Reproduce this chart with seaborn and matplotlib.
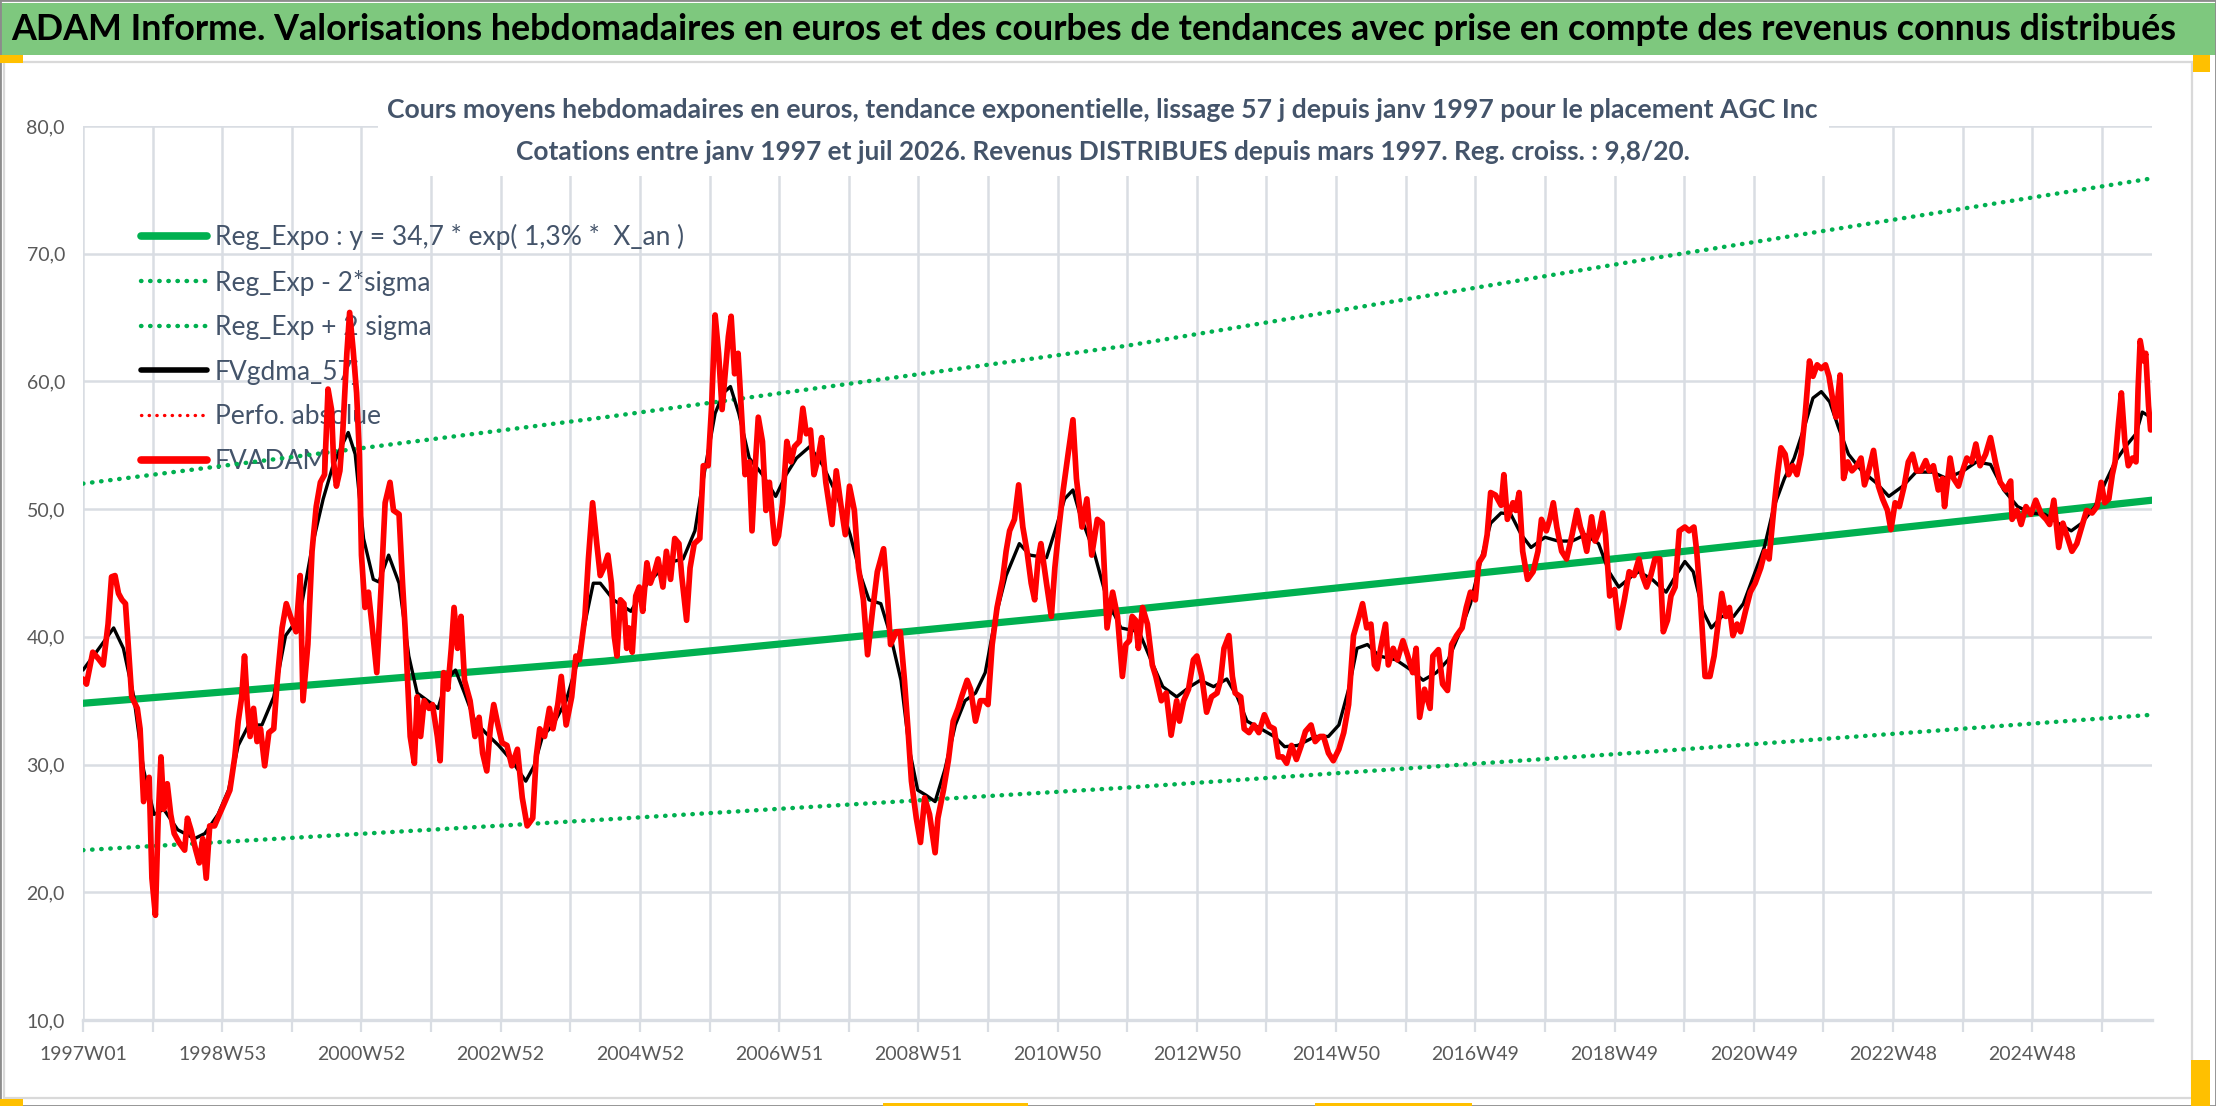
import numpy as np
import matplotlib
matplotlib.use('Agg')
import matplotlib.pyplot as plt
from matplotlib.lines import Line2D
from matplotlib.patches import Rectangle
from matplotlib import font_manager
import seaborn as sns

# ---- data (x = années depuis 1997W01, y = euros) ----
red_t = [
    0.00, 0.05, 0.14, 0.22, 0.29, 0.36, 0.41, 0.46, 0.51, 0.56,
    0.61, 0.65, 0.70, 0.78, 0.82, 0.87, 0.95, 0.99, 1.04, 1.08,
    1.12, 1.16, 1.21, 1.26, 1.31, 1.38, 1.46, 1.50, 1.55, 1.62,
    1.67, 1.72, 1.77, 1.82, 1.89, 1.96, 2.04, 2.11, 2.18, 2.23,
    2.28, 2.32, 2.36, 2.40, 2.45, 2.50, 2.55, 2.61, 2.67, 2.74,
    2.79, 2.86, 2.92, 2.98, 3.06, 3.12, 3.16, 3.23, 3.29, 3.35,
    3.41, 3.47, 3.52, 3.57, 3.60, 3.64, 3.69, 3.73, 3.79, 3.83,
    3.88, 3.93, 3.97, 4.00, 4.05, 4.10, 4.15, 4.22, 4.29, 4.34,
    4.41, 4.46, 4.54, 4.59, 4.63, 4.70, 4.76, 4.80, 4.85, 4.90,
    4.97, 5.02, 5.09, 5.13, 5.18, 5.24, 5.29, 5.33, 5.38, 5.43,
    5.48, 5.56, 5.63, 5.69, 5.74, 5.80, 5.85, 5.90, 5.96, 6.02,
    6.09, 6.16, 6.24, 6.31, 6.38, 6.46, 6.51, 6.56, 6.63, 6.70,
    6.75, 6.82, 6.87, 6.94, 7.02, 7.08, 7.13, 7.21, 7.26, 7.32,
    7.38,
    7.43, 7.48, 7.54, 7.59, 7.63, 7.67, 7.72, 7.77, 7.81, 7.84,
    7.89, 7.94, 7.99, 8.04, 8.10, 8.15, 8.21, 8.26, 8.33, 8.38,
    8.44, 8.50, 8.56, 8.60, 8.67, 8.72, 8.78, 8.86, 8.91, 8.98,
    9.03, 9.08, 9.13, 9.18, 9.24, 9.27, 9.31, 9.36, 9.41, 9.46,
    9.51, 9.57, 9.61, 9.66, 9.70, 9.76, 9.81, 9.86, 9.91, 9.94,
    9.99, 10.05, 10.11, 10.17, 10.22, 10.29, 10.34, 10.39, 10.45, 10.50,
    10.56, 10.61, 10.67, 10.76, 10.82, 10.89, 10.95, 11.01, 11.08, 11.14,
    11.21, 11.27, 11.34, 11.41, 11.50, 11.56, 11.60, 11.68, 11.74, 11.80,
    11.85, 11.90, 11.97, 12.03, 12.09, 12.16, 12.24, 12.28, 12.36, 12.43,
    12.50, 12.57, 12.62, 12.70, 12.75, 12.82, 12.89, 12.95, 13.00, 13.06,
    13.13, 13.21, 13.26, 13.31, 13.38, 13.44, 13.50, 13.56, 13.62, 13.67,
    13.72, 13.76, 13.84, 13.91, 13.96, 14.02, 14.08, 14.15, 14.22, 14.27,
    14.35, 14.42, 14.49, 14.57, 14.64, 14.71, 14.79, 14.86,
    14.93, 14.98, 15.03, 15.07, 15.12, 15.16, 15.22, 15.29, 15.36, 15.41,
    15.49, 15.56, 15.63, 15.71, 15.75, 15.81, 15.88, 15.95, 16.00, 16.07,
    16.14, 16.21, 16.29, 16.34, 16.39, 16.46, 16.51, 16.55, 16.63, 16.68,
    16.75, 16.82, 16.89, 16.97, 17.04, 17.11, 17.17, 17.23, 17.29, 17.36,
    17.43, 17.50, 17.56, 17.64, 17.70, 17.77, 17.82, 17.89, 17.96, 18.04,
    18.11, 18.18, 18.25, 18.33, 18.38, 18.44, 18.50, 18.55, 18.59, 18.64,
    18.71, 18.75, 18.82, 18.88, 18.96, 19.03, 19.10, 19.15, 19.20, 19.27,
    19.35, 19.39, 19.47, 19.53, 19.60, 19.66, 19.73, 19.81, 19.87, 19.93,
    20.00, 20.05, 20.12, 20.17, 20.22, 20.29, 20.37, 20.41, 20.46, 20.54,
    20.58, 20.63, 20.68, 20.75, 20.83, 20.90, 20.95, 21.02, 21.07, 21.12,
    21.17, 21.24, 21.31, 21.39, 21.46, 21.51, 21.55, 21.60, 21.67, 21.72,
    21.78, 21.83, 21.87, 21.93, 22.00, 22.06, 22.14, 22.21, 22.28,
    22.35, 22.40, 22.46, 22.52, 22.58, 22.65, 22.70, 22.76, 22.81, 22.87,
    22.93, 23.01, 23.07, 23.14, 23.18, 23.23, 23.30, 23.37, 23.43, 23.48,
    23.54, 23.60, 23.65, 23.70, 23.76, 23.81, 23.88, 23.95, 24.02, 24.10,
    24.16, 24.22, 24.28, 24.34, 24.39, 24.45, 24.50, 24.56, 24.62, 24.68,
    24.74, 24.80, 24.85, 24.91, 24.97, 25.03, 25.08, 25.13, 25.18, 25.24,
    25.29, 25.35, 25.41, 25.48, 25.54, 25.59, 25.65, 25.72, 25.79, 25.85,
    25.92, 25.97, 26.03, 26.09, 26.16, 26.22, 26.28, 26.34, 26.40, 26.47,
    26.52, 26.58, 26.65, 26.71, 26.74, 26.82, 26.87, 26.94, 27.00, 27.06,
    27.13, 27.19, 27.25, 27.33, 27.40, 27.47, 27.54, 27.62, 27.69, 27.71,
    27.78, 27.84, 27.91, 27.98, 28.05, 28.13, 28.20, 28.25, 28.31, 28.38,
    28.44, 28.51, 28.57, 28.64, 28.71, 28.78, 28.86, 28.93, 28.99, 29.04,
    29.10, 29.15, 29.19, 29.24, 29.28, 29.33, 29.38, 29.44, 29.49, 29.52,
    29.55, 29.60, 29.63, 29.67, 29.70,
]
red_v = [
    36.7, 36.3, 38.8, 38.3, 37.8, 41.0, 44.7, 44.8, 43.4, 42.9,
    42.6, 39.4, 35.3, 34.4, 32.8, 27.1, 29.0, 21.1, 18.2, 25.8,
    30.6, 26.5, 28.5, 26.1, 24.6, 23.9, 23.3, 25.8, 24.9, 23.3,
    22.3, 24.2, 21.1, 25.2, 25.2, 26.1, 27.1, 28.0, 30.6, 33.4,
    35.3, 38.5, 34.7, 32.2, 34.4, 31.8, 32.8, 29.9, 32.5, 32.8,
    36.6, 40.7, 42.6, 41.6, 40.4, 44.8, 35.0, 39.4, 46.7, 50.2,
    52.1, 52.7, 59.4, 57.8, 53.7, 51.8, 53.0, 55.9, 62.2, 65.4,
    62.5, 59.1, 54.3, 46.4, 42.3, 43.5, 41.0, 37.2, 44.8, 50.5,
    52.1, 49.9, 49.6, 44.2, 40.4, 32.2, 30.1, 35.3, 32.2, 35.0,
    34.4, 34.7, 32.2, 30.3, 37.2, 35.9, 39.1, 42.3, 39.1, 41.6,
    36.6, 35.0, 32.2, 33.7, 30.9, 29.5, 32.8, 34.7, 33.1, 31.7,
    31.5, 29.9, 31.2, 27.4, 25.2, 25.8, 30.6, 32.8, 32.2, 34.4,
    32.8, 34.7, 36.9, 33.1, 35.3, 38.5, 38.2, 41.6, 46.1, 50.5,
    47.3,
    44.8, 45.4, 46.4, 44.2, 40.1, 38.5, 42.9, 42.6, 39.1, 40.7,
    38.8, 43.2, 43.9, 42.0, 45.8, 44.2, 45.1, 46.1, 43.9, 46.7,
    44.5, 47.7, 47.3, 44.8, 41.3, 45.4, 47.3, 47.7, 53.4, 53.4,
    58.1, 65.2, 62.2, 57.8, 61.6, 63.5, 65.1, 60.6, 62.2, 57.5,
    52.7, 53.7, 48.3, 53.7, 57.2, 55.3, 49.9, 52.1, 48.9, 47.3,
    47.9, 50.5, 55.3, 53.7, 54.9, 55.3, 57.9, 55.9, 56.2, 52.7,
    54.0, 55.6, 52.1, 48.8, 53.0, 50.2, 48.0, 51.8, 49.9, 45.4,
    42.9, 38.6, 42.0, 45.1, 46.9, 42.9, 39.4, 40.4, 40.4, 36.6,
    32.8, 28.7, 25.8, 23.9, 27.4, 26.1, 23.1, 25.8, 28.0, 30.3,
    33.4, 34.4, 35.3, 36.6, 35.9, 33.4, 35.0, 35.0, 34.7, 39.4,
    42.3, 44.5, 46.7, 48.3, 49.2, 51.9, 48.6, 46.7, 44.2, 42.9,
    46.1, 47.3, 44.2, 41.6, 45.4, 48.6, 51.5, 54.3, 57.0, 52.4,
    48.6, 50.8, 46.4, 49.2, 48.9, 40.7, 43.5, 41.6,
    36.9, 39.4, 39.7, 41.6, 41.3, 39.1, 42.3, 41.0, 37.8, 36.9,
    35.0, 35.6, 32.3, 35.0, 33.4, 35.0, 35.9, 38.2, 38.5, 36.9,
    34.1, 35.3, 35.6, 36.6, 39.1, 40.1, 36.9, 35.6, 35.3, 32.8,
    32.5, 33.1, 32.5, 33.9, 33.0, 32.8, 30.6, 30.6, 30.1, 31.5,
    30.4, 31.5, 32.6, 33.1, 31.8, 32.2, 32.2, 30.9, 30.3, 31.2,
    32.5, 34.7, 40.1, 41.6, 42.6, 40.7, 41.0, 37.8, 37.5, 39.1,
    41.0, 37.8, 39.1, 38.2, 39.7, 38.5, 37.2, 39.1, 33.7, 35.9,
    34.4, 38.5, 39.0, 36.3, 35.8, 39.4, 40.1, 40.7, 42.3, 43.5,
    42.9, 45.8, 46.4, 48.0, 51.3, 51.1, 50.3, 52.7, 49.2, 50.5,
    49.9, 51.3, 46.7, 44.5, 45.1, 46.7, 49.2, 48.3, 49.2, 50.5,
    48.6, 46.7, 46.1, 48.0, 49.9, 48.6, 48.0, 46.7, 49.4, 47.5,
    48.3, 49.7, 48.0, 43.2, 43.7, 40.7, 42.9, 45.1, 44.8,
    46.1, 44.8, 43.9, 44.8, 46.1, 46.1, 40.4, 41.3, 43.2, 43.9,
    48.3, 48.6, 48.3, 48.6, 46.7, 43.2, 36.9, 36.9, 38.5, 40.7,
    43.4, 41.6, 42.3, 40.1, 41.0, 40.4, 42.0, 43.5, 44.2, 45.4,
    46.7, 46.1, 49.6, 52.7, 54.8, 54.3, 52.7, 53.4, 52.7, 54.3,
    57.5, 61.6, 60.4, 61.3, 61.0, 61.3, 60.4, 58.7, 57.2, 60.5,
    52.4, 53.7, 53.0, 53.4, 54.0, 51.9, 53.0, 54.6, 51.8, 50.8,
    49.9, 48.4, 50.5, 50.2, 51.8, 53.7, 54.3, 53.0, 53.0, 53.8,
    53.0, 53.4, 51.5, 52.4, 50.2, 54.0, 52.4, 51.8, 53.0, 54.0,
    53.7, 55.1, 53.4, 54.3, 55.6, 53.7, 52.1, 51.5, 52.2, 49.2,
    49.9, 48.8, 50.2, 49.6, 50.7, 49.6, 49.2, 48.8, 50.7, 47.0,
    48.9, 47.7, 46.7, 47.3, 48.6, 49.9, 49.7, 50.2, 52.1, 50.5,
    50.8, 52.7, 53.7, 56.8, 59.1, 55.3, 53.4, 54.0, 53.7, 59.4,
    63.2, 61.6, 62.2, 58.1, 56.2,
]

black_t = [
    0.00, 0.19, 0.31, 0.44, 0.58, 0.73, 0.87, 1.02, 1.16, 1.36,
    1.60, 1.75, 1.94, 2.09, 2.23, 2.38, 2.57, 2.74, 2.91, 3.11,
    3.30, 3.45, 3.59, 3.71, 3.81, 3.91, 4.03, 4.17, 4.25, 4.39,
    4.54, 4.68, 4.80, 4.95, 5.10, 5.22, 5.35, 5.48, 5.63, 5.78,
    5.97, 6.16, 6.36, 6.48, 6.60, 6.75, 6.94, 7.09, 7.23, 7.33,
    7.43, 7.62, 7.87, 8.11, 8.40, 8.62, 8.79, 8.93, 9.08, 9.20,
    9.30, 9.42, 9.57, 9.76, 9.95, 10.10, 10.25, 10.44, 10.63, 10.83,
    11.02, 11.17, 11.29, 11.46, 11.60, 11.75, 11.87, 11.99, 12.11, 12.24,
    12.38, 12.53, 12.67, 12.82, 12.96, 13.11, 13.26, 13.45, 13.60, 13.84,
    13.98, 14.10, 14.22, 14.32, 14.52, 14.71, 14.91,
    15.17, 15.37, 15.51, 15.71, 15.90, 16.05, 16.24, 16.43, 16.58, 16.72,
    16.92, 17.11, 17.26, 17.45, 17.70, 17.89, 18.04, 18.18, 18.30, 18.45,
    18.62, 18.86, 19.05, 19.25, 19.44, 19.61, 19.78, 19.93, 20.07, 20.22,
    20.37, 20.51, 20.66, 20.80, 21.00, 21.19, 21.39, 21.58, 21.77, 21.92,
    22.06, 22.26,
    22.35, 22.54, 22.74, 22.88, 23.01, 23.13, 23.27, 23.39, 23.54, 23.71,
    23.85, 24.00, 24.15, 24.29, 24.44, 24.58, 24.73, 24.85, 24.97, 25.09,
    25.21, 25.36, 25.55, 25.75, 25.94, 26.14, 26.33, 26.57, 26.77, 27.01,
    27.20, 27.40, 27.59, 27.79, 27.98, 28.18, 28.37, 28.56, 28.71, 28.90,
    29.05, 29.19, 29.34, 29.49, 29.58, 29.70,
]
black_v = [
    37.4, 38.8, 39.7, 40.7, 39.1, 35.3, 29.6, 26.1, 26.5, 24.9,
    24.2, 24.6, 26.1, 28.0, 31.5, 33.1, 33.1, 35.3, 40.1, 41.6,
    47.3, 50.8, 53.4, 54.9, 56.0, 54.3, 47.7, 44.5, 44.3, 46.4,
    44.2, 38.5, 35.6, 35.0, 34.4, 36.6, 37.4, 35.6, 33.4, 32.5,
    31.5, 30.3, 28.7, 29.9, 32.2, 33.1, 35.0, 37.8, 41.6, 44.2,
    44.2, 42.9, 42.0, 44.2, 45.8, 46.1, 48.3, 53.0, 57.5, 59.1,
    59.6, 57.5, 54.0, 52.7, 51.0, 52.7, 54.0, 54.9, 53.4, 51.1,
    48.0, 44.8, 42.9, 42.6, 40.1, 36.6, 31.2, 28.0, 27.6, 27.1,
    29.6, 33.1, 35.0, 35.6, 37.2, 41.6, 44.8, 47.3, 46.4, 46.2,
    48.6, 50.8, 51.5, 49.6, 46.7, 42.9, 40.7,
    40.4, 37.8, 36.1, 35.3, 36.1, 36.6, 36.1, 36.7, 35.3, 33.4,
    32.8, 32.2, 31.4, 31.5, 32.2, 32.2, 33.1, 35.9, 39.1, 39.4,
    38.5, 38.2, 37.5, 36.6, 37.2, 38.2, 40.4, 42.6, 45.8, 48.9,
    49.7, 49.6, 48.0, 47.0, 47.8, 47.5, 47.5, 48.0, 47.3, 45.1,
    43.9, 44.8,
    45.1, 44.5, 43.5, 44.8, 45.9, 45.1, 42.0, 40.7, 41.6, 41.6,
    42.6, 44.8, 47.0, 50.2, 52.4, 54.0, 56.5, 58.7, 59.2, 58.4,
    56.5, 54.3, 53.0, 52.1, 51.0, 51.8, 52.9, 52.9, 52.4, 53.0,
    53.7, 53.5, 51.5, 50.2, 49.7, 49.6, 48.9, 48.3, 48.9, 50.2,
    52.1, 53.7, 54.9, 55.9, 57.6, 57.2,
]

trend_t = [0.0, 7.5, 15.0, 22.5, 29.72]
reg_expo = [34.8, 38.1, 42.1, 46.4, 50.7]
reg_moins = [23.3, 25.7, 28.2, 31.0, 33.9]
reg_plus = [52.0, 57.2, 62.8, 69.6, 75.9]

x_labels = ['1997W01', '1998W53', '2000W52', '2002W52', '2004W52', '2006W51',
            '2008W51', '2010W50', '2012W50', '2014W50', '2016W49', '2018W49',
            '2020W49', '2022W48', '2024W48']
y_ticks = [10, 20, 30, 40, 50, 60, 70, 80]

legend_labels = ['Reg_Expo : y = 34,7 * exp( 1,3% *  X_an )', 'Reg_Exp - 2*sigma',
                 'Reg_Exp + 2 sigma', 'FVgdma_57j', 'Perfo. absolue', 'FVADAM']

banner_title = ("ADAM Informe. Valorisations hebdomadaires en euros et des courbes "
                "de tendances avec prise en compte des revenus connus distribués")
sub1 = ("Cours moyens hebdomadaires en euros, tendance exponentielle, lissage 57 j "
        "depuis janv 1997 pour le placement AGC Inc")
sub2 = ("Cotations entre janv 1997 et juil 2026. Revenus DISTRIBUES depuis mars 1997. "
        "Reg. croiss. : 9,8/20.")

# ---- style ----
sns.set_theme(style="white")
fonts = {f.name for f in font_manager.fontManager.ttflist}
base_font = 'Lato' if 'Lato' in fonts else 'DejaVu Sans'
plt.rcParams['font.family'] = [base_font, 'DejaVu Sans']

GREEN = '#00B050'
GRID = '#D9DDE3'
SLATE = '#44546A'
DOTS = (0, (0.1, 1.95))
W, H = 2216, 1106

fig = plt.figure(figsize=(W / 100, H / 100), dpi=100)
fig.patch.set_facecolor('white')


def fx(x):
    return x / W


def fy(y):
    return 1 - y / H


def fit_width(txt, width_px):
    r = fig.canvas.get_renderer()
    w = txt.get_window_extent(renderer=r).width
    txt.set_fontsize(txt.get_fontsize() * width_px / w)


def box(x0, y0, x1, y1, **kw):
    fig.add_artist(Rectangle((fx(x0), fy(y1)), (x1 - x0) / W, (y1 - y0) / H,
                             transform=fig.transFigure, **kw))


# banner, frame and excel handles
box(0, 3, W, 55, facecolor='#7EC87E', edgecolor='none', zorder=1)
box(4, 62, 2192, 1098, facecolor='none', edgecolor='#D9D9D9', lw=1.6, zorder=1)
box(0, 0, W, H, facecolor='none', edgecolor='#8C8C8C', lw=2, zorder=1)
for x0, y0, x1, y1 in [(0, 55, 23, 63), (2193, 55, 2210, 72), (0, 1099, 23, 1106),
                       (2191, 1060, 2210, 1106), (883, 1103, 1028, 1106),
                       (1315, 1103, 1472, 1106)]:
    box(x0, y0, x1, y1, facecolor='#FFC000', edgecolor='none', zorder=1)

# axes
ax = fig.add_axes([fx(83), fy(1020), (2152 - 83) / W, (1020 - 126) / H])
ax.set_facecolor('white')

for band in (reg_moins, reg_plus):
    sns.lineplot(x=trend_t, y=band, ax=ax, color=GREEN, lw=3.2, linestyle=DOTS,
                 dash_capstyle='round', zorder=3, estimator=None, sort=False,
                 legend=False)
sns.lineplot(x=trend_t, y=reg_expo, ax=ax, color=GREEN, lw=5.2, zorder=3,
             estimator=None, sort=False, legend=False)
sns.lineplot(x=black_t, y=black_v, ax=ax, color='black', lw=2.4, zorder=4,
             estimator=None, sort=False, legend=False)
sns.lineplot(x=red_t, y=red_v, ax=ax, color='#FF0000', lw=4.1, zorder=5,
             estimator=None, sort=False, legend=False, solid_joinstyle='round')

ax.set_xlim(0, 29.72)
ax.set_ylim(10, 80)
ax.set_xticks(range(0, 30))
ax.set_xticklabels([x_labels[i // 2] if i % 2 == 0 else '' for i in range(0, 30)])
ax.set_yticks(y_ticks)
ax.set_yticklabels([f'{v:.1f}'.replace('.', ',') for v in y_ticks])
ax.set_xlabel('')
ax.set_ylabel('')
ax.grid(True, color=GRID, lw=1.8)
ax.set_axisbelow(True)
for s in ['top', 'right', 'left']:
    ax.spines[s].set_visible(False)
ax.spines['bottom'].set_color(GRID)
ax.spines['bottom'].set_linewidth(2.4)
ax.tick_params(axis='x', length=8.5, width=1.6, color=GRID, pad=10,
               labelsize=14, labelcolor='#595959', direction='out', bottom=True)
ax.tick_params(axis='y', length=0, pad=13, labelsize=14, labelcolor='#595959')

# legend (no frame, drawn under the curves)
handles = [
    Line2D([], [], color=GREEN, lw=5.5),
    Line2D([], [], color=GREEN, lw=3.2, linestyle=DOTS, dash_capstyle='round'),
    Line2D([], [], color=GREEN, lw=3.2, linestyle=DOTS, dash_capstyle='round'),
    Line2D([], [], color='black', lw=4),
    Line2D([], [], color='#FF0000', lw=2.4, linestyle=(0, (0.1, 2.2)),
           dash_capstyle='round'),
    Line2D([], [], color='#FF0000', lw=5.5),
]
leg = ax.legend(handles, legend_labels, loc='upper left', frameon=False,
                bbox_to_anchor=(fx(141), fy(224)), bbox_transform=fig.transFigure,
                fontsize=19, labelcolor=SLATE, handlelength=2.5, handletextpad=0.3,
                labelspacing=0.74, borderpad=0, borderaxespad=0)
leg.set_zorder(2)

# white area behind the chart title
box(378, 96, 1829, 176, facecolor='white', edgecolor='none', zorder=1.5)

t0 = fig.text(fx(11), fy(29), banner_title, ha='left', va='center',
              fontsize=20, fontweight='bold', color='black', zorder=3)
t1 = fig.text(fx(1102), fy(110), sub1, ha='center', va='center',
              fontsize=16, fontweight='bold', color=SLATE, zorder=3)
t2 = fig.text(fx(1103), fy(152), sub2, ha='center', va='center',
              fontsize=16, fontweight='bold', color=SLATE, zorder=3)
fit_width(t0, 2168)
fit_width(t1, 1433)
fit_width(t2, 1175)

fig.savefig('out.png', dpi=100)
